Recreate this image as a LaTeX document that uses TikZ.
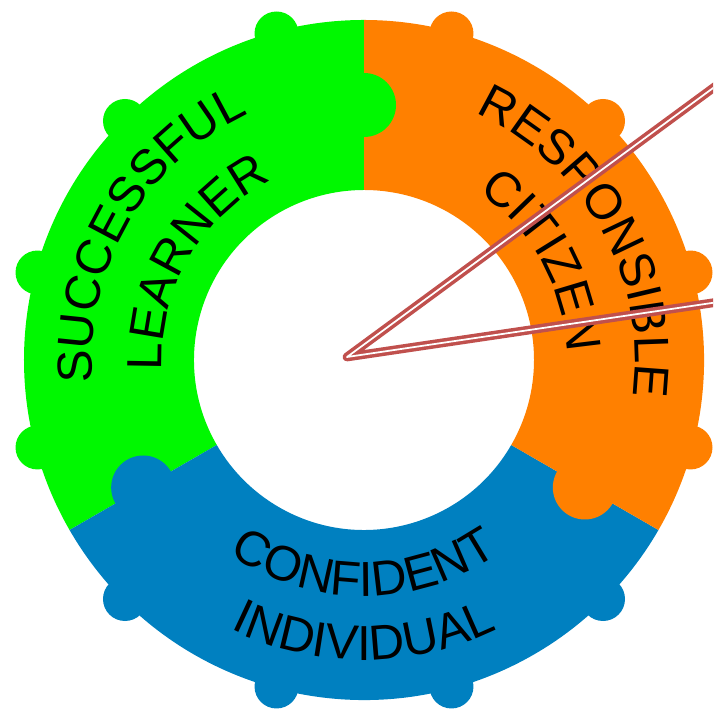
\documentclass[tikz,border=0pt]{standalone}
\usepackage{fontspec}
\setmainfont{Liberation Sans}
\usetikzlibrary{decorations.text}

\definecolor{learnergreen}{HTML}{00F800}
\definecolor{citizenorange}{HTML}{FF8000}
\definecolor{individualblue}{HTML}{0080C0}
\definecolor{pointerred}{HTML}{C0504D}

\newcommand{\ringfont}{\fontsize{14}{16}\selectfont}

\tikzset{
	ringtext/.style={decorate, decoration={text along path, text={|\ringfont|#1}, text align=center}},
	pointer/.style={draw=pointerred, double=white, line width=1pt, double distance=0.5pt, line join=round},
}

\begin{document}
\begin{tikzpicture}
	\coordinate (Origin) at (0,0);
	\clip (-3.64,-3.54) rectangle (3.49,3.60);% picture frame
	
	% the three pieces of the ring
	\fill [learnergreen] (90:1.7) -- (90:3.4) arc [start angle=90, end angle=210, radius=3.4] -- (210:1.7) arc [start angle=210, end angle=90, radius=1.7] -- cycle;
	\fill [individualblue] (210:1.7) -- (210:3.4) arc [start angle=210, end angle=330, radius=3.4] -- (330:1.7) arc [start angle=330, end angle=210, radius=1.7] -- cycle;
	\fill [citizenorange] (-30:1.7) -- (-30:3.4) arc [start angle=-30, end angle=90, radius=3.4] -- (90:1.7) arc [start angle=90, end angle=-30, radius=1.7] -- cycle;
	
	% puzzle tabs
	\fill [learnergreen] (90:2.55) circle (0.32);
	\fill [individualblue] (210:2.55) circle (0.32);
	\fill [citizenorange] (330:2.55) circle (0.32);
	
	% knobs on the rim
	\foreach \a in {105,135,165,195} \fill [learnergreen] (\a:3.38) circle (0.22);
	\foreach \a in {225,255,285,315} \fill [individualblue] (\a:3.38) circle (0.22);
	\foreach \a in {-15,15,45,75} \fill [citizenorange] (\a:3.38) circle (0.22);
	
	% labels
	\path [ringtext=SUCCESSFUL] (210:2.72) arc [start angle=210, end angle=90, radius=2.72];
	\path [ringtext=LEARNER] (210:2.02) arc [start angle=210, end angle=90, radius=2.02];
	\path [ringtext=RESPONSIBLE] (88:2.71) arc [start angle=88, end angle=-30, radius=2.71];
	\path [ringtext=CITIZEN] (88:2.03) arc [start angle=88, end angle=-30, radius=2.03];
	\path [ringtext=CONFIDENT] (210:2.36) arc [start angle=210, end angle=330, radius=2.36];
	\path [ringtext=INDIVIDUAL] (210:3.0) arc [start angle=210, end angle=330, radius=3.0];
	
	% pointer
	\coordinate (Tip) at (-0.17,0.03);
	\coordinate (UpperEnd) at (3.6,2.80);
	\coordinate (LowerEnd) at (3.6,0.588);
	\draw [pointer] (UpperEnd) -- (Tip) -- (LowerEnd);
\end{tikzpicture}
\end{document}
